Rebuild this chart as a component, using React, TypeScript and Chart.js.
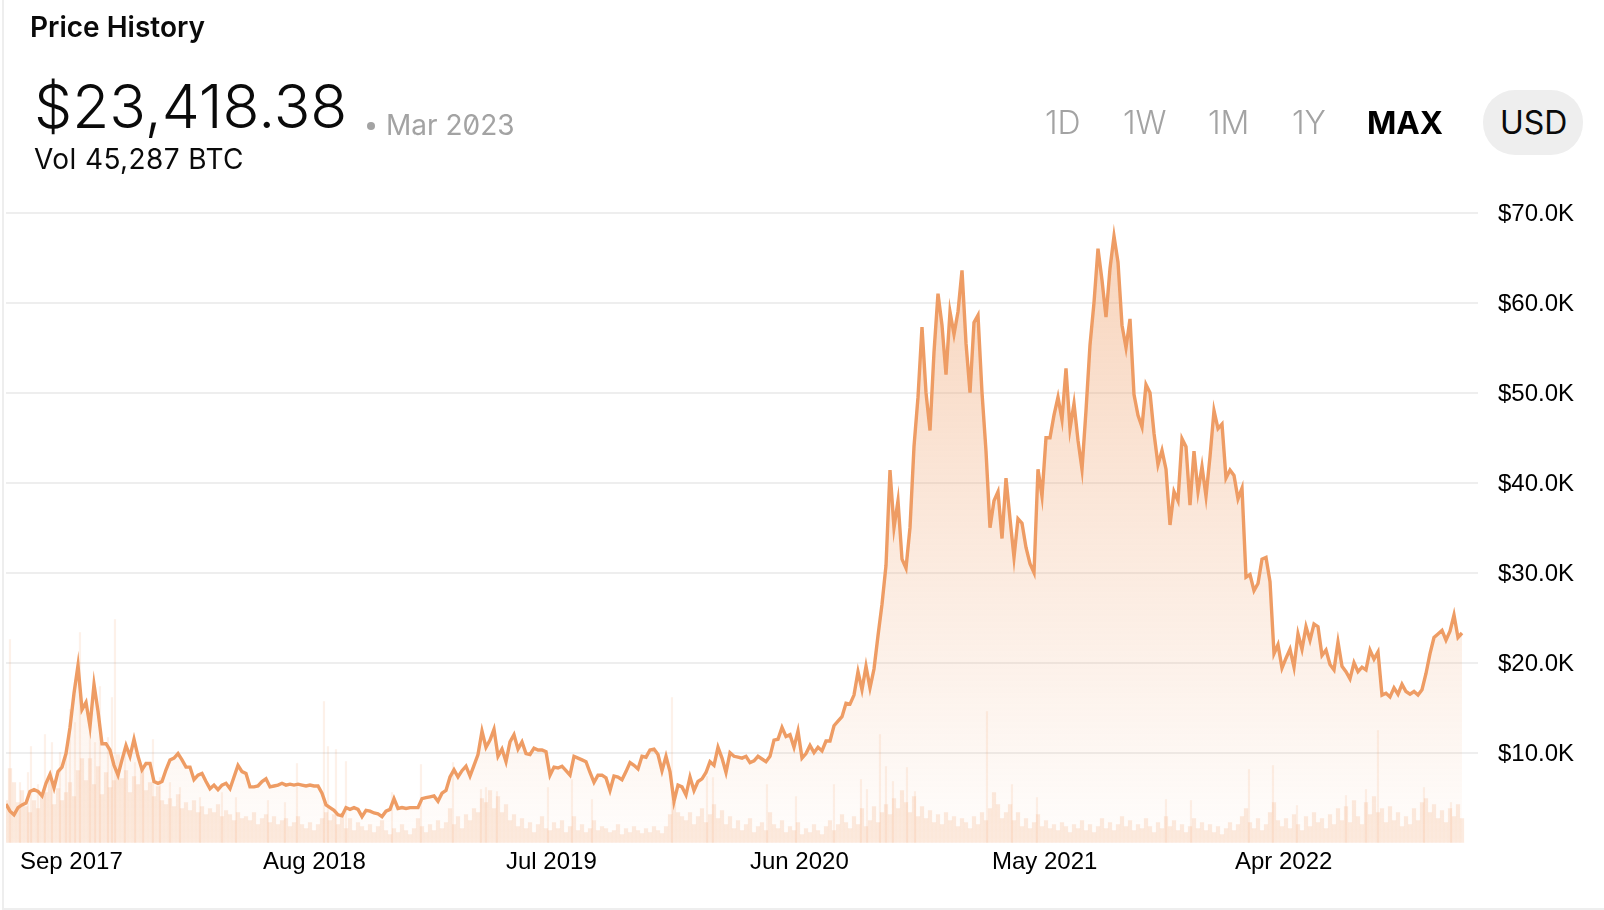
import React, { useEffect, useRef } from "react"
import Chart from "chart.js/auto"

// one price sample every 4 chart units, $K
const priceK = [
  4.3, 3.5, 3.1, 3.9, 4.2, 4.4, 5.7, 5.9, 5.7, 5.2,
  6.6, 7.6, 6.1, 7.9, 8.4, 9.9, 12.8, 16.6, 19.7, 14.8,
  15.6, 12.9, 17.6, 14.6, 11.0, 11.0, 10.3, 8.6, 7.5, 9.2,
  10.8, 9.6, 11.5, 9.6, 8.1, 8.8, 8.8, 6.8, 6.6, 6.8,
  8.1, 9.2, 9.4, 9.9, 9.2, 8.4, 8.4, 7.0, 7.5, 7.7,
  6.8, 6.0, 6.4, 5.9, 6.4, 6.6, 6.0, 7.3, 8.6, 7.9,
  7.7, 6.2, 6.2, 6.3, 6.8, 7.1, 6.2, 6.3, 6.4, 6.6,
  6.4, 6.5, 6.4, 6.5, 6.4, 6.3, 6.4, 6.3, 6.3, 5.5,
  4.2, 3.9, 3.6, 3.1, 3.0, 3.9, 3.7, 3.9, 3.7, 2.9,
  3.6, 3.5, 3.3, 3.2, 2.9, 3.5, 3.7, 4.9, 3.8, 3.9,
  3.8, 3.9, 3.9, 3.9, 4.9, 5.0, 5.1, 5.2, 4.6, 5.5,
  5.8, 7.3, 8.1, 7.3, 8.0, 8.5, 7.4, 8.6, 9.8, 12.4,
  10.6, 11.4, 12.6, 9.6, 10.4, 9.0, 11.2, 12.0, 10.4, 11.2,
  9.9, 9.8, 10.5, 10.3, 10.3, 10.1, 7.5, 8.4, 8.3, 8.5,
  8.0, 7.5, 9.6, 9.4, 9.2, 9.0, 7.8, 6.7, 7.5, 7.5,
  7.2, 5.8, 7.4, 7.3, 7.0, 7.9, 8.9, 8.6, 8.2, 9.6,
  9.5, 10.3, 10.4, 9.8, 8.0, 9.6, 7.9, 4.6, 6.4, 6.2,
  5.3, 7.3, 5.8, 6.8, 7.1, 7.8, 9.0, 8.6, 10.6, 9.4,
  7.8, 10.0, 9.6, 9.5, 9.4, 9.6, 8.9, 9.1, 9.6, 9.3,
  9.0, 9.6, 11.4, 11.5, 12.8, 11.8, 12.0, 10.6, 12.4, 9.4,
  9.9, 10.8, 10.0, 10.6, 10.2, 11.3, 11.3, 13.0, 13.5, 14.0,
  15.5, 15.4, 16.4, 19.0, 17.0, 19.6, 17.2, 19.3, 23.0, 26.5,
  30.8, 41.4, 35, 38, 31.5, 30.5, 35, 44, 49.5, 57.3,
  50, 45.8, 54.5, 61, 57.5, 52, 59, 56.5, 59, 63.6,
  55.5, 50, 57.8, 58.6, 50, 43.5, 35, 38, 39, 33.8,
  40.5, 36, 31.7, 36, 35.5, 32.8, 31, 30, 41.5, 38.5,
  45, 45, 47.5, 49.5, 47, 52.7, 46, 48.8, 44.7, 41.5,
  48, 55.3, 60, 66, 62.5, 58.4, 63.8, 67.4, 64.5, 57.5,
  55, 58.2, 49.8, 47.5, 46.2, 50.9, 50, 45.5, 42, 43.6,
  41.5, 35.3, 39, 38, 44.9, 44, 37.5, 43.5, 39, 41.8,
  38.5, 42.9, 48, 46, 46.5, 40.5, 41.4, 40.8, 38.2, 39.4,
  29.5, 29.8, 28, 28.8, 31.5, 31.7, 29, 21, 22, 19.4,
  20.5, 21.5, 19.5, 23.2, 21.5, 24, 22.5, 24.3, 24, 20.8,
  21.4, 19.8, 19.2, 22.3, 19.6, 19, 18.2, 20, 19, 19.5,
  19.2, 21.4, 20.4, 21.2, 16.4, 16.6, 16.2, 17.2, 16.5, 17.6,
  16.8, 16.5, 16.8, 16.4, 17, 18.8, 21, 22.8, 23.2, 23.6,
  22.5, 23.5, 25.3, 22.8, 23.3,
]

// volume under the price line, same sampling
const volume = [
  42, 74, 60, 40, 52, 36, 30, 42, 34, 46,
  50, 64, 38, 54, 42, 50, 60, 46, 72, 84,
  62, 84, 58, 76, 48, 70, 55, 62, 88, 64,
  72, 50, 66, 58, 74, 52, 60, 46, 56, 42,
  38, 44, 36, 48, 34, 40, 32, 42, 30, 36,
  28, 34, 30, 38, 26, 32, 28, 22, 30, 24,
  26, 22, 30, 18, 24, 28, 20, 26, 18, 22,
  24, 16, 20, 26, 18, 14, 20, 12, 18, 24,
  30, 22, 28, 18, 26, 14, 24, 12, 20, 16,
  12, 18, 10, 16, 22, 12, 8, 14, 10, 18,
  12, 8, 14, 24, 16, 10, 18, 12, 22, 14,
  20, 34, 18, 26, 14, 28, 22, 34, 30, 44,
  40, 52, 34, 46, 30, 38, 22, 28, 16, 24,
  14, 20, 10, 18, 26, 14, 12, 20, 14, 22,
  10, 16, 26, 12, 18, 10, 14, 22, 12, 16,
  14, 10, 12, 18, 8, 14, 10, 16, 12, 9,
  14, 10, 16, 12, 9, 16, 28, 40, 30, 26,
  22, 30, 18, 26, 34, 20, 28, 38, 24, 32,
  18, 26, 14, 22, 12, 18, 24, 10, 16, 20,
  12, 30, 18, 14, 22, 10, 16, 12, 20, 8,
  14, 10, 18, 12, 8, 16, 22, 12, 18, 28,
  20, 14, 26, 18, 34, 16, 22, 36, 20, 30,
  38, 28, 44, 34, 52, 40, 30, 46, 26, 36,
  24, 32, 20, 28, 18, 30, 22, 26, 16, 24,
  20, 14, 26, 18, 30, 22, 34, 50, 38, 24,
  30, 38, 22, 30, 16, 24, 14, 20, 28, 16,
  22, 14, 18, 12, 20, 16, 10, 18, 14, 22,
  12, 18, 10, 16, 24, 14, 20, 12, 18, 26,
  16, 22, 12, 18, 14, 24, 16, 10, 20, 14,
  26, 16, 22, 12, 18, 10, 16, 24, 14, 20,
  12, 18, 10, 16, 8, 14, 20, 12, 18, 26,
  34, 20, 14, 24, 12, 18, 30, 40, 22, 16,
  24, 14, 28, 18, 12, 26, 16, 30, 20, 24,
  14, 28, 18, 34, 22, 36, 20, 42, 26, 18,
  40, 28, 46, 30, 34, 20, 36, 22, 30, 16,
  26, 18, 34, 22, 40, 44, 30, 38, 24, 32,
  20, 34, 26, 38, 24,
]

// thin volume spikes that stand out of the base
const spikeAt = [
  1, 6.25, 9.75, 11.5, 16, 18.5, 23.5, 26.5, 27.25, 36.75, 72.75, 79.5, 80.5, 82.5, 85,
  96.5, 103.75, 111.75, 118.75, 120, 122.75, 135.5, 141.5, 146.5, 166.5, 175.25, 176.75,
  190.25, 197.5, 207, 213.75, 215.25, 218.5, 220, 221.75, 225.25, 227.25, 245.25,
  251.5, 257.75, 290, 296.25, 310.75, 316.75, 322.75, 335, 340, 343, 354.5, 361.25,
  3.5, 5.5, 8, 13.5, 15, 17.25, 21, 22.25, 25.5, 29.75, 32.25, 34.25, 38.5, 41, 43.5,
  48.5, 54, 57.5, 65.5, 69.75,
]
const spikeVolume = [
  203, 96, 108, 100, 133, 210, 156, 145, 223, 103, 79, 141, 96, 93, 81,
  50, 78, 80, 53, 55, 51, 55, 63, 43, 145, 66, 65,
  58, 46, 58, 63, 53, 108, 76, 61, 75, 51, 131,
  58, 45, 43, 42, 73, 77, 37, 47, 53, 112, 55, 40,
  60, 70, 58, 90, 95, 120, 110, 100, 105, 95, 80, 75, 65, 60, 55,
  45, 50, 45, 42, 40,
]

const yTicks = [10, 20, 30, 40, 50, 60, 70]
const xTickLabels = ["Sep 2017", "Aug 2018", "Jul 2019", "Jun 2020", "May 2021", "Apr 2022"]
const xTickAt = [3.5, 64.25, 125, 186, 246.5, 307.25]
const ranges = ["1D", "1W", "1M", "1Y"]

const LINE = "#ee9c64"
const INTER = "Inter, sans-serif"
const ARIAL = "'Liberation Sans', Arial, sans-serif"

const PriceChart: React.FC = () => {
  const chartRef = useRef<HTMLCanvasElement | null>(null)

  useEffect(() => {
    if (!chartRef.current) return
    const chart = new Chart(chartRef.current, {
      type: "line",
      data: {
        datasets: [
          {
            type: "line",
            data: priceK.map((y, x) => ({ x, y })),
            yAxisID: "y",
            borderColor: LINE,
            borderWidth: 3.4,
            pointRadius: 0,
            tension: 0,
            fill: "origin",
            backgroundColor: (ctx: any) => {
              const area = ctx.chart.chartArea
              if (!area) return "transparent"
              const g = ctx.chart.ctx.createLinearGradient(0, area.top, 0, area.bottom)
              g.addColorStop(0, "rgba(238,156,100,0.44)")
              g.addColorStop(1, "rgba(238,156,100,0.02)")
              return g
            },
            order: 1,
          },
          {
            type: "bar",
            data: volume.map((y, x) => ({ x, y })),
            yAxisID: "yVolume",
            backgroundColor: "rgba(238,156,100,0.2)",
            barThickness: 3.6,
            grouped: false,
            order: 2,
          },
          {
            type: "bar",
            data: spikeAt.map((x, i) => ({ x, y: spikeVolume[i] })),
            yAxisID: "yVolume",
            backgroundColor: "rgba(238,156,100,0.14)",
            barThickness: 1.5,
            grouped: false,
            order: 3,
          },
        ],
      } as any,
      options: {
        responsive: false,
        animation: false,
        layout: { padding: { left: 6, top: 212.7, right: 0, bottom: 0 } },
        plugins: { legend: { display: false }, tooltip: { enabled: false } },
        scales: {
          x: {
            type: "linear",
            min: 0,
            max: 368,
            bounds: "data",
            offset: false,
            grid: { display: false, offset: false },
            border: { display: false },
            afterBuildTicks: (scale: any) => {
              scale.ticks = xTickAt.map((value) => ({ value }))
            },
            afterFit: (scale: any) => {
              scale.height = 67.3
            },
            ticks: {
              autoSkip: false,
              maxRotation: 0,
              align: "start",
              padding: -3,
              color: "#000",
              font: { family: ARIAL, size: 24 },
              callback: (_: any, i: number) => xTickLabels[i],
            },
          },
          y: {
            position: "right",
            min: 0,
            max: 70,
            grid: {
              color: (ctx: any) => (yTicks.includes(ctx.tick.value) ? "#eeeeee" : "transparent"),
              lineWidth: 2,
              drawTicks: false,
            },
            border: { display: false },
            afterFit: (scale: any) => {
              scale.width = 0
            },
            ticks: { stepSize: 10, display: false },
          },
          // labels sit a little below their grid lines in the original
          yLabels: {
            position: "right",
            min: 0.17,
            max: 70.17,
            grid: { display: false, drawTicks: false },
            border: { display: false },
            afterBuildTicks: (scale: any) => {
              scale.ticks = yTicks.map((value) => ({ value }))
            },
            afterFit: (scale: any) => {
              scale.width = 126
            },
            ticks: {
              autoSkip: false,
              padding: 20,
              color: "#000",
              font: { family: ARIAL, size: 24 },
              callback: (v: any) => `$${v}.0K`,
            },
          },
          yVolume: { display: false, min: 0, max: 630 },
        },
      } as any,
    })

    return () => {
      chart.destroy()
    }
  }, [])

  return (
    <canvas
      ref={chartRef}
      width={1604}
      height={910}
      style={{ position: "absolute", left: 0, top: 0, width: 1604, height: 910 }}
    />
  )
}

const abs = (left: number, top: number, extra: React.CSSProperties): React.CSSProperties => ({
  position: "absolute",
  left,
  top,
  whiteSpace: "nowrap",
  fontFamily: INTER,
  ...extra,
})

const rangeLeft = [1045, 1123, 1208, 1292]

export default function App() {
  return (
    <div style={{ position: "relative", width: 1604, height: 910, overflow: "hidden", background: "#fff" }}>
      <style>{"html,body{margin:0;padding:0;overflow:hidden;background:#fff}"}</style>
      <PriceChart />
      <div style={{ position: "absolute", left: 2, top: 0, width: 2, height: 910, background: "#eeeeee" }} />
      <div style={{ position: "absolute", left: 2, top: 908, width: 1602, height: 2, background: "#eeeeee" }} />

      <div style={abs(30, 9, { fontSize: 28, fontWeight: 600, lineHeight: "36px", color: "#0a0a0a" })}>Price History</div>
      <div style={abs(34, 68, { fontSize: 60.5, fontWeight: 300, lineHeight: "76px", color: "#0a0a0a" })}>$23,418.38</div>
      <div style={{ position: "absolute", left: 367, top: 122, width: 8, height: 8, borderRadius: 4, background: "#a3a3a3" }} />
      <div style={abs(386, 108, { fontSize: 28, lineHeight: "34px", color: "#a3a3a3", fontFeatureSettings: '"zero"' })}>Mar 2023</div>
      <div style={abs(34, 142, { fontSize: 28, letterSpacing: 0.4, lineHeight: "34px", color: "#0a0a0a" })}>Vol 45,287 BTC</div>

      {ranges.map((r, i) => (
        <div key={r} style={abs(rangeLeft[i], 104, { fontSize: 32, fontWeight: 300, lineHeight: "38px", color: "#a3a3a3" })}>{r}</div>
      ))}
      <div style={abs(1367, 104, { fontSize: 31.5, fontWeight: 700, lineHeight: "38px", color: "#000" })}>MAX</div>
      <div style={{ position: "absolute", left: 1483, top: 90, width: 100, height: 65, borderRadius: 32, background: "#eeeeee" }} />
      <div style={abs(1500, 104, { fontSize: 32, lineHeight: "38px", color: "#0a0a0a" })}>USD</div>
    </div>
  )
}
